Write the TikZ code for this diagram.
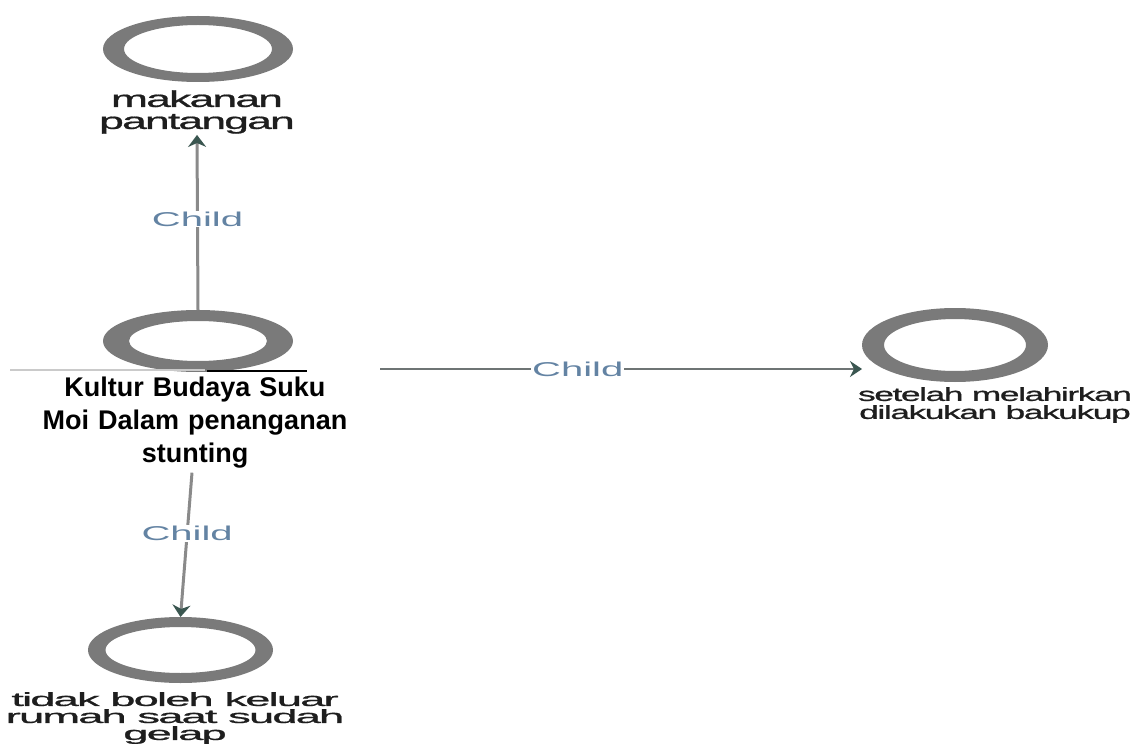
\documentclass[tikz,border=0pt]{standalone}
\usepackage{fontspec}
\setmainfont{Liberation Sans}
\newfontfamily\leaffont[LetterSpace=-4,FakeBold=0.8]{Liberation Sans}
\usepackage{graphicx}
\usetikzlibrary{arrows.meta,shapes.geometric}

\definecolor{ringgrey}{HTML}{7A7A7A}
\definecolor{edgegrey}{HTML}{8A8A8A}
\definecolor{hgrey}{HTML}{6E7474}
\definecolor{tipcol}{HTML}{3A5650}
\definecolor{childcol}{HTML}{6383A3}
\definecolor{lblcol}{HTML}{1E1E1E}

% horizontally widened text, one line at a time
\newcommand\stretchx[2][1.93]{\scalebox{#1}[1]{#2}}

% a ring: grey band between two ellipses, plus a named node over it
\newcommand\ringnode[7]{%
  \fill[ringgrey,even odd rule]
    (#2,#3) ellipse [x radius=#4,y radius=#5]
    (#2,#3) ellipse [x radius=#6,y radius=#7];
  \node[ellipse,inner sep=0pt,outer sep=0pt,
        minimum width=2*#4 pt,minimum height=2*#5 pt] (#1) at (#2,#3) {};}

\tikzset{
  leaflbl/.style={align=center,text=lblcol,inner sep=1pt},
  rootlbl/.style={align=center,fill=white,inner sep=0pt,text width=370pt,
    font=\fontsize{27}{33}\selectfont\bfseries},
  vedge/.style={draw=edgegrey,line width=3pt,
    -{Stealth[length=12pt,width=18pt,color=tipcol]}},
  hedge/.style={draw=hgrey,line width=2pt,
    -{Stealth[length=12pt,width=16pt,color=tipcol]}},
  childlbl/.style={fill=white,text=childcol,inner sep=1pt,
    font=\fontsize{20}{20}\selectfont},
}

\begin{document}
\begin{tikzpicture}[x=1pt,y=-1pt]
\useasboundingbox (0,0) rectangle (1135,746);

% rings
\ringnode{topring}{198}{49}{95}{33}{74}{24}
\ringnode{root}{198}{341}{95}{31}{69}{20}
\ringnode{rightring}{955}{345}{93}{37}{71}{26}
\ringnode{botring}{180.5}{650}{92.5}{33}{75}{23}

% leaf labels
\node[leaflbl,font=\leaffont\fontsize{23}{22}\selectfont] (toplbl) at (197,112)
  {\stretchx{makanan}\\\stretchx{pantangan}};
\node[leaflbl,font=\leaffont\fontsize{19}{18}\selectfont] (rightlbl) at (995,405)
  {\stretchx[1.86]{setelah melahirkan}\\\stretchx[1.86]{dilakukan bakukup}};
\node[leaflbl,font=\leaffont\fontsize{19}{17}\selectfont,anchor=north] (botlbl) at (175,691)
  {\stretchx[2.38]{tidak boleh keluar}\\\stretchx[2.38]{rumah saat sudah}\\\stretchx[2.38]{gelap}};

% root label
\node[rootlbl,anchor=north] (rootlbl) at (195,377)
  {Kultur Budaya Suku\\Moi Dalam penanganan\\stunting};

% rule under the root ring
\draw[edgegrey!45,line width=2pt] (10,370) -- (205,370);
\draw[black,line width=2pt] (207,370.5) -- (307,370.5);

% connectors
\draw[vedge] (root.north) -- node[childlbl,pos=0.52] {\stretchx[2.0]{Child}} (toplbl.south);
\coordinate (hstart) at ([yshift=8pt]rootlbl.north east);
\coordinate (hend) at (rightring.west |- hstart);
\draw[hedge] (hstart) -- node[childlbl,pos=0.41] {\stretchx[2.0]{Child}} (hend);
\draw[vedge] ([xshift=-3pt,yshift=-4pt]rootlbl.south) -- node[childlbl,pos=0.42] {\stretchx[2.0]{Child}} (botring.north);

\end{tikzpicture}
\end{document}
